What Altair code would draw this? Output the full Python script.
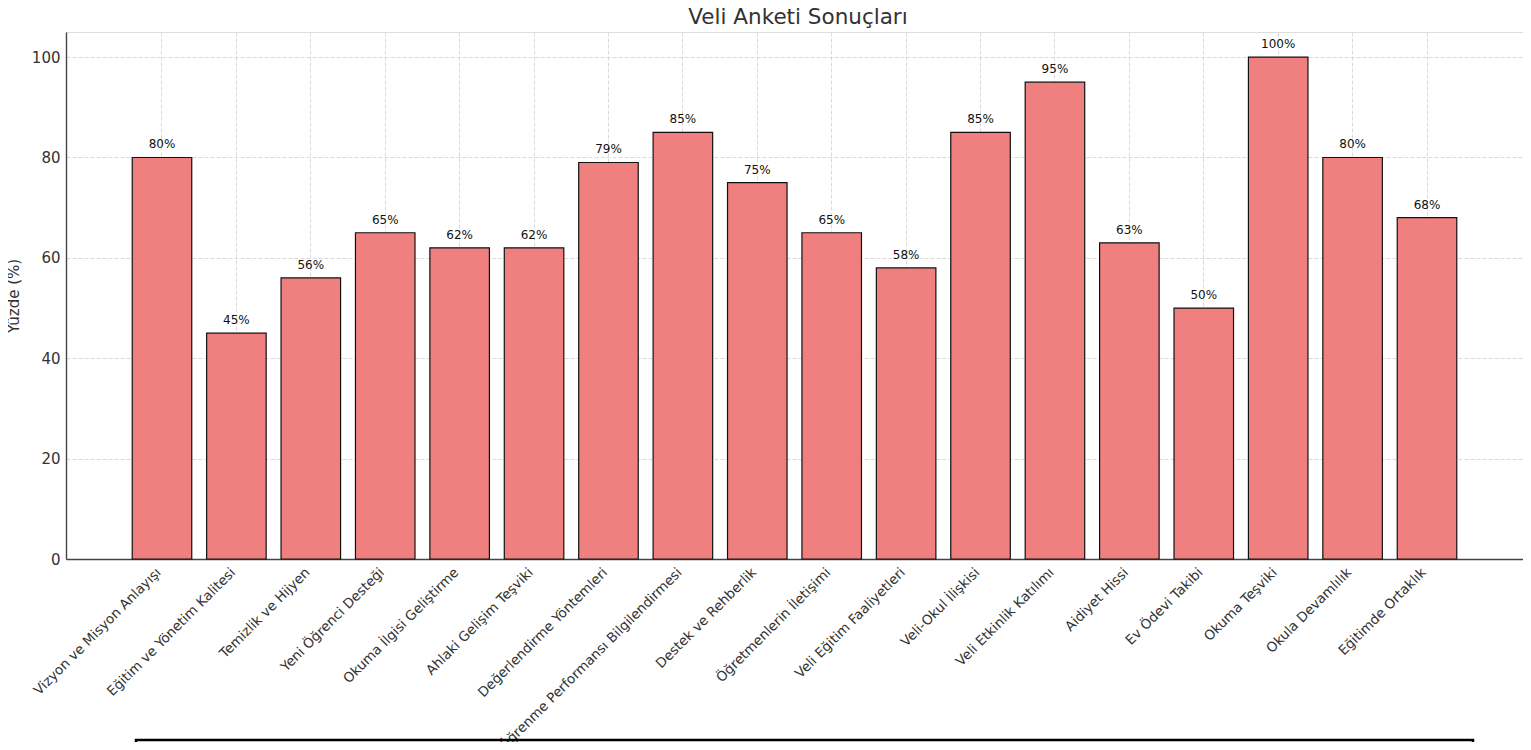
import altair as alt
import pandas as pd

title_text = "Veli Anketi Sonuçları"
categories = [
    "Vizyon ve Misyon Anlayışı",
    "Eğitim ve Yönetim Kalitesi",
    "Temizlik ve Hijyen",
    "Yeni Öğrenci Desteği",
    "Okuma İlgisi Geliştirme",
    "Ahlaki Gelişim Teşviki",
    "Değerlendirme Yöntemleri",
    "Öğrenme Performansı Bilgilendirmesi",
    "Destek ve Rehberlik",
    "Öğretmenlerin İletişimi",
    "Veli Eğitim Faaliyetleri",
    "Veli-Okul İlişkisi",
    "Veli Etkinlik Katılımı",
    "Aidiyet Hissi",
    "Ev Ödevi Takibi",
    "Okuma Teşviki",
    "Okula Devamlılık",
    "Eğitimde Ortaklık",
]
values = [80, 45, 56, 65, 62, 62, 79, 85, 75, 65, 58, 85, 95, 63, 50, 100, 80, 68]
y_ticks = [0, 20, 40, 60, 80, 100]

df = pd.DataFrame({"kategori": categories, "yuzde": values})
df["etiket"] = [f"{v}%" for v in values]

FONT = "DejaVu Sans"

x_enc = alt.X(
    "kategori:N",
    sort=categories,
    scale=alt.Scale(paddingInner=0.2, paddingOuter=0.89),
    axis=alt.Axis(
        title=None,
        labelAngle=-45,
        labelAlign="right",
        labelBaseline="top",
        labelOffset=-8,
        labelPadding=6,
        labelFontSize=13.5,
        labelColor="#333333",
        labelFont=FONT,
        labelLimit=0,
        ticks=False,
        domainColor="#444444",
        domainWidth=1.4,
        grid=True,
        gridColor="#d0d0d0",
        gridDash=[4, 2],
        gridWidth=0.8,
        labelOverlap=False,
    ),
)

y_enc = alt.Y(
    "yuzde:Q",
    scale=alt.Scale(domain=[0, 105], nice=False),
    axis=alt.Axis(
        title="Yüzde (%)",
        titleFont=FONT,
        titleFontSize=15,
        titleFontWeight="normal",
        titleColor="#333333",
        titlePadding=10,
        values=y_ticks,
        labelFontSize=15,
        labelFont=FONT,
        labelColor="#333333",
        labelPadding=6,
        ticks=False,
        domainColor="#444444",
        domainWidth=1.4,
        grid=True,
        gridColor="#d0d0d0",
        gridDash=[4, 2],
        gridWidth=0.8,
    ),
)

base = alt.Chart(df)

bars = base.mark_bar(
    color="#F08080", stroke="#111111", strokeWidth=1.2
).encode(x=x_enc, y=y_enc)

labels = base.mark_text(
    baseline="bottom", dy=-6, fontSize=12, font=FONT, color="#111111"
).encode(x=alt.X("kategori:N", sort=categories), y="yuzde:Q", text="etiket:N")

title = alt.Chart(alt.Data(values=[{"t": title_text}])).mark_text(
    font=FONT, fontSize=21.5, color="#333333", align="center", baseline="alphabetic"
).encode(text="t:N", x=alt.value(732), y=alt.value(-8))

box = alt.Chart(alt.Data(values=[{"a": 1}])).mark_rect(
    fill=None, stroke="#000000", strokeWidth=2.5
).encode(
    x=alt.value(70), x2=alt.value(1407), y=alt.value(708), y2=alt.value(780)
)

chart = (
    alt.layer(bars, labels, title, box)
    .properties(
        width=1457,
        height=527,
        autosize=alt.AutoSizeParams(type="none"),
        padding={"left": 58, "top": 24, "right": 0, "bottom": 183},
    )
    .configure_view(stroke=None)
    .configure(background="white")
)

chart.save("out.html", embed_options={"renderer": "svg", "actions": False})
